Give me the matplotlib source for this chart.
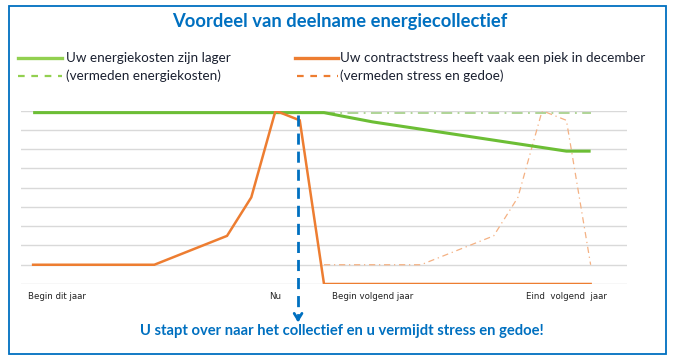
import matplotlib
matplotlib.use("Agg")
import matplotlib.pyplot as plt
from matplotlib.lines import Line2D
from matplotlib.patches import Rectangle
import numpy as np

plt.rcParams['font.family'] = ['Lato', 'DejaVu Sans']

title = "Voordeel van deelname energiecollectief"
footer = "U stapt over naar het collectief en u vermijdt stress en gedoe!"
legend_labels = ["Uw energiekosten zijn lager",
                 "(vermeden energiekosten)",
                 "Uw contractstress heeft vaak een piek in december",
                 "(vermeden stress en gedoe)"]

categories = ["", "Begin dit jaar", "", "", "", "", "", "", "", "", "Nu", "", "", "",
              "Begin volgend jaar", "", "", "", "", "", "", "", "Eind  volgend  jaar", "", ""]

kosten = [8.9, 8.9, 8.9, 8.9, 8.9, 8.9, 8.9, 8.9, 8.9, 8.9, 8.9, 8.9, 8.9,
          8.66, 8.42, 8.23, 8.04, 7.85, 7.66, 7.47, 7.28, 7.09, 6.9, 6.9, None]
kosten_vermeden = [None, None, None, None, None, None, None, None, None, None, None, None,
                   8.9, 8.9, 8.9, 8.9, 8.9, 8.9, 8.9, 8.9, 8.9, 8.9, 8.9, 8.9, None]
stress = [1, 1, 1, 1, 1, 1, 1.5, 2.0, 2.5, 4.5, 9.0, 8.5,
          0, 0, 0, 0, 0, 0, 0, 0, 0, 0, 0, 0, None]
stress_vermeden = [None, None, None, None, None, None, None, None, None, None, None, None,
                   1, 1, 1, 1, 1, 1.5, 2.0, 2.5, 4.5, 9.0, 8.5, 1.0, None]

BLUE = "#0070C0"
GREEN = "#6CBE35"
GREEN_LEG = "#92D050"
GREEN_LIGHT = "#A9D18E"
ORANGE = "#ED7D31"
ORANGE_LIGHT = "#F4B183"

def arr(v):
    return np.array([np.nan if x is None else x for x in v], dtype=float)

W, H = 676, 363
fig = plt.figure(figsize=(W / 100, H / 100), dpi=100)

# border
fig.patches.append(Rectangle((9 / W, 1 - 354 / H), (666 - 9) / W, (354 - 6) / H,
                             transform=fig.transFigure, fill=False,
                             edgecolor=BLUE, linewidth=1.3))

ax = fig.add_axes([21 / W, 1 - 284 / H, 606 / W, (284 - 110.7) / H])
x = np.arange(len(categories))
ax.set_xlim(-0.5, len(categories) - 0.5)
ax.set_ylim(0, 9)
ax.set_yticks(np.arange(0, 10, 1))
ax.yaxis.grid(True, color="#D9D9D9", linewidth=1.0)
ax.set_axisbelow(True)
for s in ax.spines.values():
    s.set_visible(False)
ax.tick_params(axis='y', left=False, labelleft=False)
ax.set_xticks(x)
ax.set_xticklabels(categories, fontsize=6.2, color="#222222", family=['DejaVu Sans'])
ax.tick_params(axis='x', length=0, pad=6)

ax.plot(x, arr(kosten_vermeden), color=GREEN_LIGHT, lw=1.3, dashes=(6, 3, 1, 3), zorder=2)
ax.plot(x, arr(stress_vermeden), color=ORANGE_LIGHT, lw=0.9, dashes=(5, 3, 1, 3), zorder=2)
ax.plot(x, arr(kosten), color=GREEN, lw=2.2, zorder=3, solid_capstyle='butt')
ax.plot(x, arr(stress), color=ORANGE, lw=1.8, zorder=4, solid_joinstyle='miter')

# blue dashed arrow
xa = 10.93
ax.plot([xa, xa], [8.77, -1.75], color=BLUE, lw=2.0, dashes=(4, 2.5), clip_on=False, zorder=5)
ax.annotate('', xy=(xa, -2.13), xytext=(xa, -1.6), annotation_clip=False,
            arrowprops=dict(arrowstyle='->,head_length=0.45,head_width=0.28', color=BLUE, lw=2.0))

# texts
fig.text(340 / W, 1 - 21 / H, title, ha='center', va='center', fontsize=13.2,
         fontweight='bold', color=BLUE)
fig.text(342 / W, 1 - 331 / H, footer, ha='center', va='center', fontsize=10.6,
         fontweight='bold', color=BLUE)

# legend
leg = [(18, 62, 66, 58, GREEN_LEG, '-', 2.4, legend_labels[0]),
       (18, 62, 66, 76, GREEN_LEG, '--', 1.6, legend_labels[1]),
       (295, 338, 340, 58, ORANGE, '-', 2.4, legend_labels[2]),
       (297, 338, 340, 76, ORANGE, '--', 1.6, legend_labels[3])]
for x0, x1, tx, y, c, ls, lw, lab in leg:
    ln = Line2D([x0 / W, x1 / W], [1 - y / H, 1 - y / H], transform=fig.transFigure,
                color=c, lw=lw, linestyle=ls)
    if ls == '--':
        ln.set_dashes((3, 3))
    fig.lines.append(ln)
    fig.text(tx / W, 1 - y / H, lab, ha='left', va='center', fontsize=9.7, color="#1A2030")

fig.savefig("out.png", dpi=100)
